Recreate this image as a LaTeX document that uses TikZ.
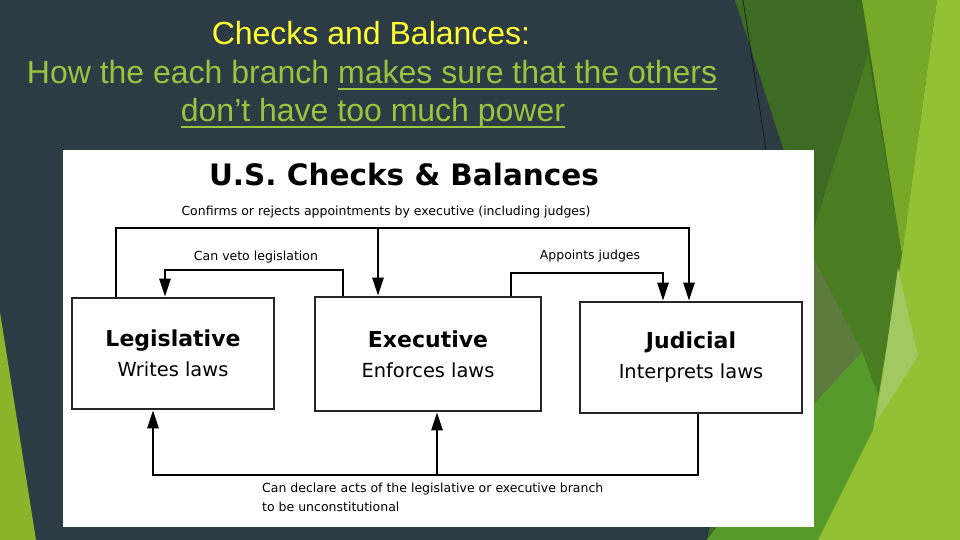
\documentclass[tikz,border=0pt]{standalone}
\usepackage{fontspec}
\setmainfont{DejaVu Sans}
\newfontfamily\slidefont{Liberation Sans}
\usepackage{xcolor}
\usepackage{tikz}
\usetikzlibrary{arrows.meta,positioning,calc}

\definecolor{slate}{HTML}{2C3B44}
\definecolor{forest}{HTML}{3E6B24}
\definecolor{moss}{HTML}{4A7D22}
\definecolor{sage}{HTML}{5E7B3E}
\definecolor{leaf}{HTML}{569A2C}
\definecolor{oliveband}{HTML}{78A828}
\definecolor{limeband}{HTML}{92C133}
\definecolor{paleleaf}{HTML}{A2C862}
\definecolor{cornerleaf}{HTML}{8AB52A}
\definecolor{headyellow}{HTML}{FFFF33}
\definecolor{headgreen}{HTML}{9BC43E}

% underline drawn as a rule below the text
\newsavebox\ulbox
\newcommand\slideul[1]{\sbox\ulbox{#1}\rlap{\rule[-6.4pt]{\wd\ulbox}{2.7pt}}\usebox\ulbox}

\begin{document}
\begin{tikzpicture}[
    x=1pt, y=-1pt,
    >={Triangle[length=18pt,width=11pt]},
    branchbox/.style={rectangle, draw=black!85, line width=2.6pt, fill=white,
      align=center, inner sep=0pt, font=\fontsize{19.4}{30}\selectfont},
    link/.style={line width=2.4pt, draw=black},
    flow/.style={link, ->},
    linklab/.style={font=\fontsize{12.5}{19}\selectfont, inner sep=0pt},
    headline/.style={font=\slidefont\fontsize{32}{38}\selectfont, inner sep=0pt, anchor=base}
  ]
  \useasboundingbox (0,0) rectangle (960,540);
  % slide background
  \fill[forest] (0,0) rectangle (960,540);
  \fill[slate] (0,0) -- (735,0) -- (785,155) -- (707,540) -- (0,540) -- cycle;
  \draw[black!70!slate, line width=0.6pt] (743,0) -- (766,150);
  \fill[cornerleaf] (0,312) -- (36,540) -- (0,540) -- cycle;
  \fill[moss] (868,55) -- (902,255) -- (873,430) -- (818,540) -- (760,540) -- (812,235) -- cycle;
  \fill[sage] (812,255) -- (862,352) -- (812,415) -- cycle;
  \fill[leaf] (707,540) -- (790,430) -- (862,352) -- (880,400) -- (873,430) -- (818,540) -- cycle;
  \fill[oliveband] (862,0) -- (937,0) -- (902,255) -- cycle;
  \fill[limeband] (937,0) -- (960,0) -- (960,540) -- (818,540) -- (873,430) -- (902,255) -- cycle;
  \fill[paleleaf] (898,268) -- (918,356) -- (876,422) -- cycle;

  % slide title
  \node[headline, text=headyellow] (head1) at (371,45) {Checks and Balances:};
  \node[headline, text=headgreen] (head2) at (372,84)
    {How the each branch \slideul{makes sure that the others}};
  \node[headline, text=headgreen] (head3) at (373,122) {\slideul{don’t have too much power}};

  % picture panel
  \fill[white] (63,150) rectangle (814,527);
  \node[font=\bfseries\fontsize{29.5}{34}\selectfont] (title) at (404,175) {U.S. Checks \& Balances};

  % branches
  \node[branchbox, minimum width=202pt, minimum height=111pt] (leg) at (173,353.5)
    {{\fontsize{22}{30}\selectfont\bfseries Legislative}\\Writes laws};
  \node[branchbox, minimum width=226pt, minimum height=114pt] (exe) at (428,354)
    {{\fontsize{22}{30}\selectfont\bfseries Executive}\\Enforces laws};
  \node[branchbox, minimum width=222pt, minimum height=111pt] (jud) at (691,357.5)
    {{\fontsize{22}{30}\selectfont\bfseries Judicial}\\Interprets laws};

  % bends of the connectors
  \coordinate (confL) at (116,228); \coordinate (confE) at (378,228); \coordinate (confR) at (689,228);
  \coordinate (vetoE) at (343,270); \coordinate (vetoL) at (165,270);
  \coordinate (appE) at (511,273); \coordinate (appJ) at (663,273);
  \coordinate (decJ) at (698,475); \coordinate (decE) at (437,475); \coordinate (decL) at (153,475);

  \draw[flow] (leg.north -| confL) -- (confL) -- (confR) -- (jud.north -| confR);
  \draw[flow] (confE) -- (exe.north -| confE);
  \draw[flow] (exe.north -| vetoE) -- (vetoE) -- (vetoL) -- (leg.north -| vetoL);
  \draw[flow] (exe.north -| appE) -- (appE) -- (appJ) -- (jud.north -| appJ);
  \draw[flow] (jud.south -| decJ) -- (decJ) -- (decL) -- (leg.south -| decL);
  \draw[flow] (decE) -- (exe.south -| decE);

  \node[linklab] (conflab) at (386,212) {Confirms or rejects appointments by executive (including judges)};
  \node[linklab] (vetolab) at (256,257) {Can veto legislation};
  \node[linklab] (applab) at (590,256) {Appoints judges};
  \node[linklab, anchor=north west, align=left] (declab) at (262,483)
    {Can declare acts of the legislative or executive branch\\to be unconstitutional};
\end{tikzpicture}
\end{document}
